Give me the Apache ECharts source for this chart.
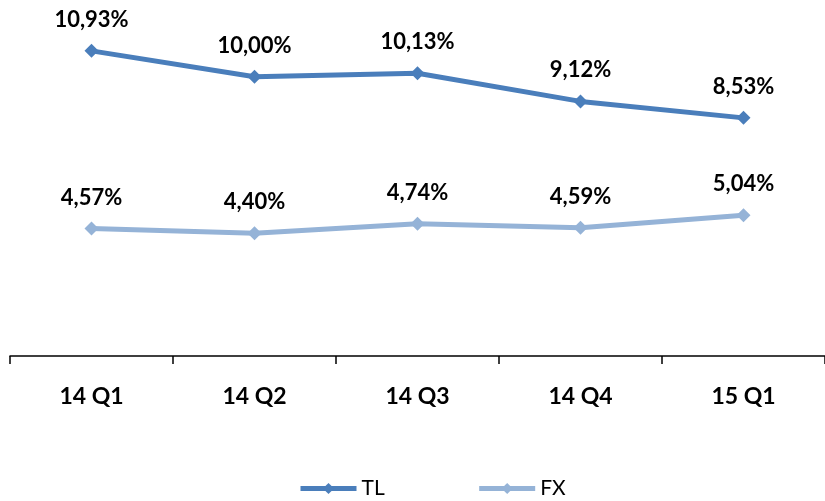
<!DOCTYPE html>
<html>
<head>
<meta charset="utf-8">
<script src="https://cdn.jsdelivr.net/npm/echarts@6/dist/echarts.min.js"></script>
<style>
    html, body { margin: 0; padding: 0; background: #fff; }
    #chart { width: 825px; height: 501px; }
</style>
</head>
<body>
<div id="chart"></div>
<script>
// quarters on the x axis
var quarters = ["14 Q1", "14 Q2", "14 Q3", "14 Q4", "15 Q1"]
// ratios in percent
var tlValues = [10.93, 10.00, 10.13, 9.12, 8.53]
var fxValues = [4.57, 4.40, 4.74, 4.59, 5.04]

var colors = {
    tl: "#4a7ebb",
    fx: "#95b3d7",
}

function pct(p) {
    return p.value.toFixed(2).replace(".", ",") + "%"
}

function makeSerie(name, data, color) {
    return {
        name: name,
        type: "line",
        data: data,
        symbol: "diamond",
        symbolSize: 14,
        lineStyle: { width: 5, color: color },
        itemStyle: { color: color },
        label: {
            show: true,
            position: "top",
            distance: 13,
            formatter: pct,
            fontFamily: "Lato",
            fontWeight: "bold",
            fontSize: 22,
            color: "#000",
        },
        animation: false,
    }
}

var myChart = echarts.init(document.getElementById("chart"))

var option = {
    backgroundColor: "#fff",
    grid: {
        left: 10,
        right: -7,
        top: 21,
        bottom: 145,
        containLabel: false,
    },
    legend: {
        top: 473,
        left: 293,
        itemWidth: 56,
        itemHeight: 14,
        itemGap: 92,
        lineStyle: { width: 5 },
        textStyle: {
            fontFamily: "Lato",
            fontSize: 21,
            color: "#000",
        },
        data: ["TL", "FX"],
    },
    xAxis: {
        type: "category",
        data: quarters,
        boundaryGap: true,
        axisLine: { lineStyle: { color: "#000", width: 1.5 } },
        axisTick: { show: true, length: 8, lineStyle: { color: "#000", width: 1.5 } },
        axisLabel: {
            margin: 29,
            fontFamily: "Lato",
            fontWeight: "bold",
            fontSize: 23,
            color: "#000",
        },
    },
    yAxis: {
        type: "value",
        min: 0,
        max: 12,
        show: false,
        splitLine: { show: false },
    },
    series: [
        makeSerie("TL", tlValues, colors.tl),
        makeSerie("FX", fxValues, colors.fx),
    ],
}

myChart.setOption(option, true)
</script>
</body>
</html>
